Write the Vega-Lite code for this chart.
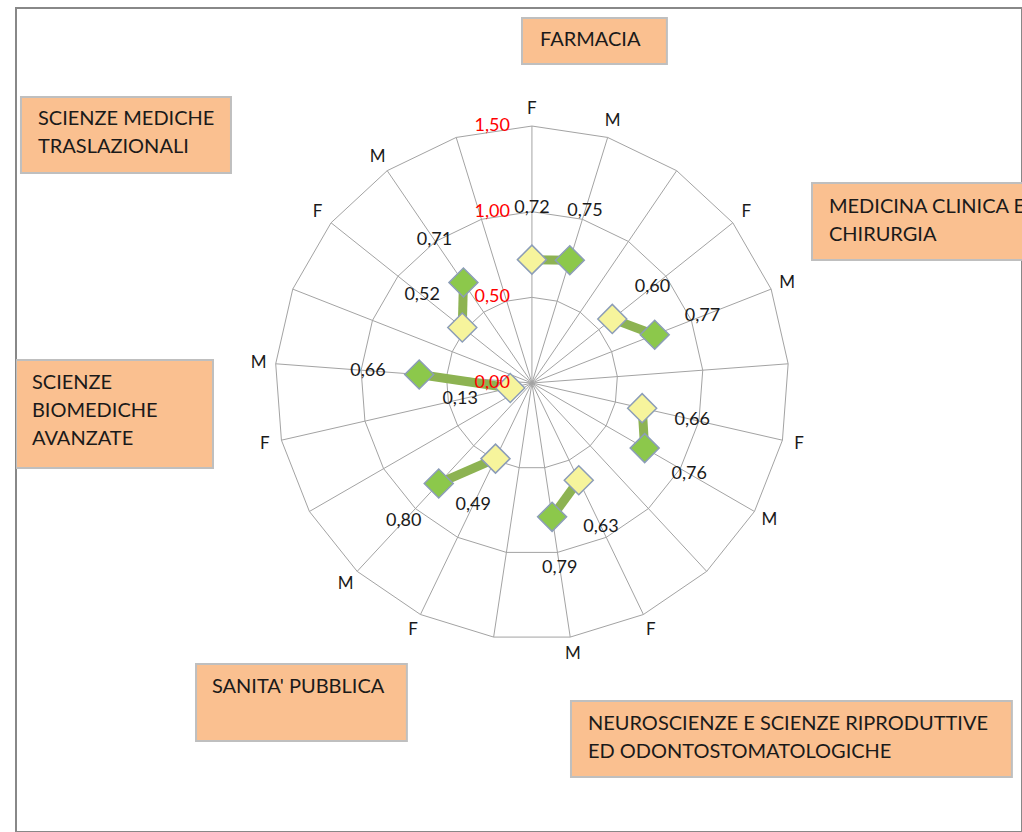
{
  "$schema": "https://vega.github.io/schema/vega-lite/v6.json",
  "width": 1022,
  "height": 832,
  "autosize": {"type": "fit", "contains": "padding"},
  "padding": {"left": 16, "top": 8, "right": 0, "bottom": 0},
  "background": "white",
  "config": {
    "view": {"stroke": "#888888", "strokeWidth": 2},
    "locale": {"number": {"decimal": ",", "thousands": ".", "grouping": [3], "currency": ["", " €"]}},
    "text": {"font": "Lato"}
  },
  "datasets": {
    "main": [
      {"group": "FARMACIA", "sex": "F", "i": 0, "value": 0.72},
      {"group": "FARMACIA", "sex": "M", "i": 1, "value": 0.75},
      {"group": "MEDICINA CLINICA E CHIRURGIA", "sex": "F", "i": 3, "value": 0.60},
      {"group": "MEDICINA CLINICA E CHIRURGIA", "sex": "M", "i": 4, "value": 0.77},
      {"group": "ALTRO", "sex": "F", "i": 6, "value": 0.66},
      {"group": "ALTRO", "sex": "M", "i": 7, "value": 0.76},
      {"group": "NEUROSCIENZE", "sex": "F", "i": 9, "value": 0.63},
      {"group": "NEUROSCIENZE", "sex": "M", "i": 10, "value": 0.79},
      {"group": "SANITA' PUBBLICA", "sex": "F", "i": 12, "value": 0.49},
      {"group": "SANITA' PUBBLICA", "sex": "M", "i": 13, "value": 0.80},
      {"group": "SCIENZE BIOMEDICHE AVANZATE", "sex": "F", "i": 15, "value": 0.13},
      {"group": "SCIENZE BIOMEDICHE AVANZATE", "sex": "M", "i": 16, "value": 0.66},
      {"group": "SCIENZE MEDICHE TRASLAZIONALI", "sex": "F", "i": 18, "value": 0.52},
      {"group": "SCIENZE MEDICHE TRASLAZIONALI", "sex": "M", "i": 19, "value": 0.71}
    ],
    "grid": [
      {"i": 0, "r": 0.5}, {"i": 1, "r": 0.5}, {"i": 2, "r": 0.5}, {"i": 3, "r": 0.5}, {"i": 4, "r": 0.5}, {"i": 5, "r": 0.5}, {"i": 6, "r": 0.5}, {"i": 7, "r": 0.5}, {"i": 8, "r": 0.5}, {"i": 9, "r": 0.5}, {"i": 10, "r": 0.5}, {"i": 11, "r": 0.5}, {"i": 12, "r": 0.5}, {"i": 13, "r": 0.5}, {"i": 14, "r": 0.5}, {"i": 15, "r": 0.5}, {"i": 16, "r": 0.5}, {"i": 17, "r": 0.5}, {"i": 18, "r": 0.5}, {"i": 19, "r": 0.5}, {"i": 20, "r": 0.5}, {"i": 21, "r": 0.5},
      {"i": 0, "r": 1.0}, {"i": 1, "r": 1.0}, {"i": 2, "r": 1.0}, {"i": 3, "r": 1.0}, {"i": 4, "r": 1.0}, {"i": 5, "r": 1.0}, {"i": 6, "r": 1.0}, {"i": 7, "r": 1.0}, {"i": 8, "r": 1.0}, {"i": 9, "r": 1.0}, {"i": 10, "r": 1.0}, {"i": 11, "r": 1.0}, {"i": 12, "r": 1.0}, {"i": 13, "r": 1.0}, {"i": 14, "r": 1.0}, {"i": 15, "r": 1.0}, {"i": 16, "r": 1.0}, {"i": 17, "r": 1.0}, {"i": 18, "r": 1.0}, {"i": 19, "r": 1.0}, {"i": 20, "r": 1.0}, {"i": 21, "r": 1.0},
      {"i": 0, "r": 1.5}, {"i": 1, "r": 1.5}, {"i": 2, "r": 1.5}, {"i": 3, "r": 1.5}, {"i": 4, "r": 1.5}, {"i": 5, "r": 1.5}, {"i": 6, "r": 1.5}, {"i": 7, "r": 1.5}, {"i": 8, "r": 1.5}, {"i": 9, "r": 1.5}, {"i": 10, "r": 1.5}, {"i": 11, "r": 1.5}, {"i": 12, "r": 1.5}, {"i": 13, "r": 1.5}, {"i": 14, "r": 1.5}, {"i": 15, "r": 1.5}, {"i": 16, "r": 1.5}, {"i": 17, "r": 1.5}, {"i": 18, "r": 1.5}, {"i": 19, "r": 1.5}, {"i": 20, "r": 1.5}, {"i": 21, "r": 1.5}
    ],
    "levels": [{"r": 0}, {"r": 0.5}, {"r": 1.0}, {"r": 1.5}],
    "boxes": [
      {"name": "FARMACIA", "x1": -0.058, "x2": 0.788, "y1": 2.131, "y2": 1.862, "tx": 0.047, "ty": 2.002},
      {"name": "SCIENZE MEDICHE\nTRASLAZIONALI", "x1": -2.983, "x2": -1.757, "y1": 1.670, "y2": 1.226, "tx": -2.884, "ty": 1.541},
      {"name": "MEDICINA CLINICA E\nCHIRURGIA", "x1": 1.635, "x2": 2.95, "y1": 1.168, "y2": 0.718, "tx": 1.734, "ty": 1.027},
      {"name": "SCIENZE\nBIOMEDICHE\nAVANZATE", "x1": -3.012, "x2": -1.862, "y1": 0.134, "y2": -0.496, "tx": -2.919, "ty": 0.0},
      {"name": "SANITA' PUBBLICA", "x1": -1.961, "x2": -0.730, "y1": -1.640, "y2": -2.090, "tx": -1.868, "ty": -1.775},
      {"name": "NEUROSCIENZE E SCIENZE  RIPRODUTTIVE\nED ODONTOSTOMATOLOGICHE", "x1": 0.228, "x2": 2.802, "y1": -1.856, "y2": -2.300, "tx": 0.327, "ty": -1.991}
    ]
  },
  "encoding": {
    "x": {"field": "px", "type": "quantitative", "scale": {"domain": [-3.012, 2.861], "nice": false, "zero": false}, "axis": null},
    "y": {"field": "py", "type": "quantitative", "scale": {"domain": [-2.621, 2.189], "nice": false, "zero": false}, "axis": null}
  },
  "layer": [
    {
      "data": {"name": "grid"},
      "transform": [
        {"calculate": "datum.r * sin(datum.i * 2 * PI / 21)", "as": "px"},
        {"calculate": "datum.r * cos(datum.i * 2 * PI / 21)", "as": "py"}
      ],
      "mark": {"type": "line", "stroke": "#A3A3A3", "strokeWidth": 1},
      "encoding": {"detail": {"field": "r"}, "order": {"field": "i", "type": "quantitative"}}
    },
    {
      "data": {"name": "grid"},
      "transform": [
        {"filter": "datum.r == 1.5 && datum.i < 21"},
        {"calculate": "datum.r * sin(datum.i * 2 * PI / 21)", "as": "px"},
        {"calculate": "datum.r * cos(datum.i * 2 * PI / 21)", "as": "py"}
      ],
      "mark": {"type": "rule", "stroke": "#A3A3A3", "strokeWidth": 1},
      "encoding": {"x2": {"datum": 0}, "y2": {"datum": 0}}
    },
    {
      "data": {"name": "main"},
      "transform": [
        {"calculate": "datum.value * sin(datum.i * 2 * PI / 21)", "as": "px"},
        {"calculate": "datum.value * cos(datum.i * 2 * PI / 21)", "as": "py"}
      ],
      "mark": {"type": "line", "stroke": "#8DB352", "strokeWidth": 9},
      "encoding": {"detail": {"field": "group"}, "order": {"field": "i", "type": "quantitative"}}
    },
    {
      "data": {"name": "main"},
      "transform": [
        {"calculate": "datum.value * sin(datum.i * 2 * PI / 21)", "as": "px"},
        {"calculate": "datum.value * cos(datum.i * 2 * PI / 21)", "as": "py"}
      ],
      "mark": {"type": "point", "shape": "diamond", "filled": true, "size": 841, "opacity": 1, "stroke": "#8C9DB8", "strokeWidth": 1.5},
      "encoding": {
        "fill": {"field": "sex", "type": "nominal", "scale": {"domain": ["F", "M"], "range": ["#F6F49C", "#8CC84B"]}, "legend": null}
      }
    },
    {
      "data": {"name": "main"},
      "transform": [
        {"calculate": "(datum.value + 0.3) * sin(datum.i * 2 * PI / 21)", "as": "px"},
        {"calculate": "(datum.value + 0.3) * cos(datum.i * 2 * PI / 21)", "as": "py"}
      ],
      "mark": {"type": "text", "fontSize": 18, "color": "#1A1A1A", "align": "center", "baseline": "middle"},
      "encoding": {"text": {"field": "value", "type": "quantitative", "format": ".2f"}}
    },
    {
      "data": {"name": "main"},
      "transform": [
        {"calculate": "1.6 * sin(datum.i * 2 * PI / 21)", "as": "px"},
        {"calculate": "1.6 * cos(datum.i * 2 * PI / 21)", "as": "py"}
      ],
      "mark": {"type": "text", "fontSize": 17, "color": "#1A1A1A", "align": "center", "baseline": "middle"},
      "encoding": {"text": {"field": "sex"}}
    },
    {
      "data": {"name": "levels"},
      "transform": [
        {"calculate": "0", "as": "px"},
        {"calculate": "datum.r", "as": "py"}
      ],
      "mark": {"type": "text", "fontSize": 18, "color": "#FF0000", "align": "right", "baseline": "middle", "dx": -22},
      "encoding": {"text": {"field": "r", "type": "quantitative", "format": ".2f"}}
    },
    {
      "data": {"name": "boxes"},
      "mark": {"type": "rect", "fill": "#FAC090", "stroke": "#BFBFBF", "strokeWidth": 2, "clip": true},
      "encoding": {
        "x": {"field": "x1", "type": "quantitative"},
        "x2": {"field": "x2"},
        "y": {"field": "y1", "type": "quantitative"},
        "y2": {"field": "y2"}
      }
    },
    {
      "data": {"name": "boxes"},
      "mark": {"type": "text", "fontSize": 20, "color": "#1A1A1A", "align": "left", "baseline": "middle", "lineBreak": "\n", "lineHeight": 28, "clip": true},
      "encoding": {
        "x": {"field": "tx", "type": "quantitative"},
        "y": {"field": "ty", "type": "quantitative"},
        "text": {"field": "name"}
      }
    }
  ]
}
